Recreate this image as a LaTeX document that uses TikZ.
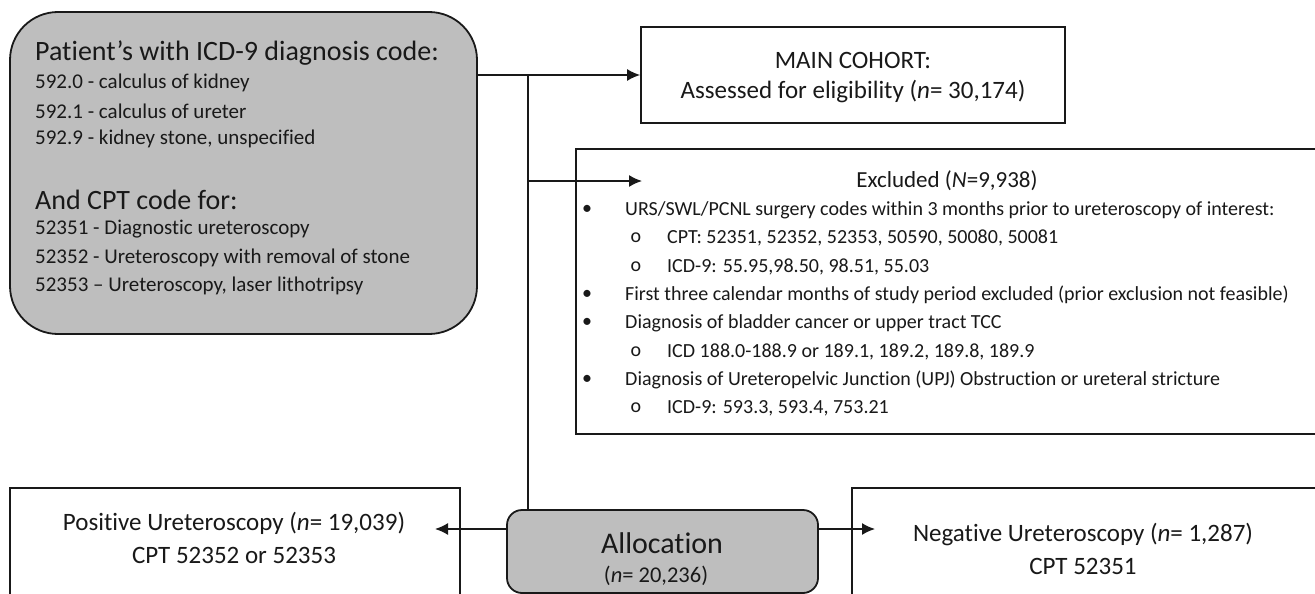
\documentclass[tikz,border=0pt]{standalone}
\usepackage{fontspec}
\setmainfont{Carlito}[Ligatures={NoCommon,NoRequired,NoContextual},Contextuals={NoAlternate}]
\usetikzlibrary{arrows.meta}
\definecolor{boxgray}{RGB}{190,190,190}
\definecolor{ink}{RGB}{25,25,25}
\begin{document}
\begin{tikzpicture}[x=1pt,y=-1pt,
  box/.style={draw=ink,line width=1.8pt,fill=white,rectangle,inner sep=0pt},
  gbox/.style={draw=ink,line width=1.8pt,fill=boxgray,rectangle,rounded corners=#1,inner sep=0pt},
  conn/.style={draw=ink,line width=1.5pt},
  arr/.style={conn,-{Latex[length=13pt,width=12pt]}},
  txt/.style={inner sep=0pt,text=ink},
  big/.style={txt,font=\fontsize{28}{32}\selectfont},
  sml/.style={txt,font=\fontsize{21}{25}\selectfont},
  mid/.style={txt,font=\fontsize{25}{29}\selectfont},
  lst/.style={txt,font=\fontsize{20}{24}\selectfont},
]
\clip (0,0) rectangle (1315,594);
\fill[white] (0,0) rectangle (1315,594);

% boxes
\node[gbox=48pt, minimum width=467pt, minimum height=322pt] (src) at (243.5,173) {};
\node[box, minimum width=424pt, minimum height=96pt] (main) at (853,75) {};
\node[box, minimum width=764pt, minimum height=285pt] (excl) at (958,291.5) {};
\node[box, minimum width=450pt, minimum height=132pt] (pos) at (235,554) {};
\node[gbox=15pt, minimum width=311pt, minimum height=83pt] (alloc) at (662.5,551.5) {};
\node[box, minimum width=488pt, minimum height=132pt] (neg) at (1096,554) {};

% source text
\node[big, anchor=west] (t1) at (35,53) {Patient’s with ICD-9 diagnosis code:};
\node[sml, anchor=west] (t2) at (35,83) {592.0 - calculus of kidney};
\node[sml, anchor=west] (t3) at (35,111) {592.1 - calculus of ureter};
\node[sml, anchor=west] (t4) at (35,139) {592.9 - kidney stone, unspecified};
\node[big, anchor=west] (t5) at (35,200) {And CPT code for:};
\node[sml, anchor=west] (t6) at (35,229) {52351 - Diagnostic ureteroscopy};
\node[sml, anchor=west] (t7) at (35,258) {52352 - Ureteroscopy with removal of stone};
\node[sml, anchor=west] (t8) at (35,286) {52353 – Ureteroscopy, laser lithotripsy};

% main cohort
\node[mid] (m1) at (853,60) {MAIN COHORT:};
\node[mid] (m2) at (853,92) {Assessed for eligibility (\textit{n}= 30,174)};

% excluded
\node[txt, font=\fontsize{23}{27}\selectfont] (e0) at (947,181) {Excluded (\textit{N}=9,938)};
\node[lst] (b1) at (587,210) {•};
\node[lst, anchor=west] (e1) at (625,210) {URS/SWL/PCNL surgery codes within 3 months prior to ureteroscopy of interest:};
\node[lst] (o1) at (636,238) {o};
\node[lst, anchor=west] (e2) at (667,238) {CPT: 52351, 52352, 52353, 50590, 50080, 50081};
\node[lst] (o2) at (636,267) {o};
\node[lst, anchor=west] (e3) at (667,267) {ICD-9: 55.95,98.50, 98.51, 55.03};
\node[lst] (b2) at (587,295) {•};
\node[lst, anchor=west] (e4) at (625,295) {First three calendar months of study period excluded (prior exclusion not feasible)};
\node[lst] (b3) at (587,323) {•};
\node[lst, anchor=west] (e5) at (625,323) {Diagnosis of bladder cancer or upper tract TCC};
\node[lst] (o3) at (636,352) {o};
\node[lst, anchor=west] (e6) at (667,352) {ICD 188.0-188.9 or 189.1, 189.2, 189.8, 189.9};
\node[lst] (b4) at (587,380) {•};
\node[lst, anchor=west] (e7) at (625,380) {Diagnosis of Ureteropelvic Junction (UPJ) Obstruction or ureteral stricture};
\node[lst] (o4) at (636,408) {o};
\node[lst, anchor=west] (e8) at (667,408) {ICD-9: 593.3, 593.4, 753.21};

% bottom texts
\node[mid] (p1) at (234,523) {Positive Ureteroscopy (\textit{n}= 19,039)};
\node[mid] (p2) at (234,555) {CPT 52352 or 52353};
\node[txt, font=\fontsize{30}{34}\selectfont] (a1) at (662,543) {Allocation};
\node[txt, font=\fontsize{22.5}{26}\selectfont] (a2) at (656,576) {(\textit{n}= 20,236)};
\node[mid] (n1) at (1083,535) {Negative Ureteroscopy (\textit{n}= 1,287)};
\node[mid] (n2) at (1083,566) {CPT 52351};

% connectors
\coordinate (j1) at (528,75);
\coordinate (j2) at (528,181);
\coordinate (exTip) at (642,181);
\coordinate (posTip) at (435,529);
\coordinate (negTip) at (875,529);
\draw[arr] (src.east |- main.west) -- (main.west);
\draw[conn] (j1) -- (j1 |- alloc.north);
\draw[arr] (j2) -- (exTip);
\draw[arr] (alloc.west |- posTip) -- (posTip);
\draw[arr] (alloc.east |- negTip) -- (negTip);
\end{tikzpicture}
\end{document}
